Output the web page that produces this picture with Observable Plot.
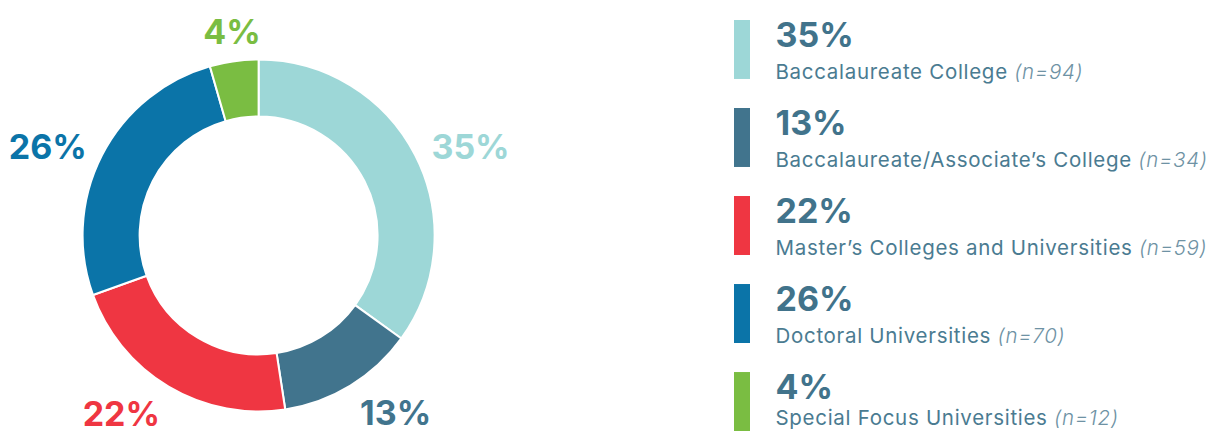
<!DOCTYPE html>
<html>
<head>
<meta charset="utf-8">
<script src="https://cdn.jsdelivr.net/npm/d3@7"></script>
<script src="https://cdn.jsdelivr.net/npm/@observablehq/plot@0.6"></script>
<style>
  html, body { margin: 0; padding: 0; background: #fff; }
  #wrap { display: flex; flex-direction: row; width: 1214px; height: 434px; overflow: hidden; }
  svg { overflow: visible; }
</style>
</head>
<body>
<div id="wrap"></div>
<script>
// ---- Data ----
const categories = [
  "Baccalaureate College",
  "Baccalaureate/Associate\u2019s College",
  "Master\u2019s Colleges and Universities",
  "Doctoral Universities",
  "Special Focus Universities"
];
const percents = [35, 13, 22, 26, 4];
const counts = [94, 34, 59, 70, 12];
const colors = ["#9dd7d7", "#41748d", "#ef3642", "#0b74a8", "#7abd42"];

const data = categories.map((c, i) => ({category: c, pct: percents[i], n: counts[i], label: percents[i] + "%", last: i === categories.length - 1}));

// pie layout (angles clockwise from 12 o'clock)
const pie = d3.pie().sort(null).value(d => d.n)(data);
const labelR = 1.1;    // in outer-radius units
const innerRatio = 0.676;
const labelData = pie.map(p => {
  const a = (p.startAngle + p.endAngle) / 2;
  const s = Math.sin(a), c = Math.cos(a);
  return {
    ...p.data, a, lx: labelR * s, ly: labelR * c,
    textAnchor: s > 0.3 ? "start" : s < -0.3 ? "end" : "middle",
    lineAnchor: c > 0.7 ? "bottom" : c < -0.7 ? "top" : "middle"
  };
});

const FONT = "Inter, 'Open Sans', sans-serif";
const cx = 258.6, cy = 235.5, R = 176;

const donutMark = (index, scales) => {
  const x = scales.x, y = scales.y, color = scales.color;
  const ox = x(0), oy = y(0);
  const rOut = x(1) - x(0);
  const rIn = x(innerRatio) - x(0);
  const arc = d3.arc().innerRadius(rIn).outerRadius(rOut);
  const g = d3.create("svg:g").attr("aria-label", "donut").attr("transform", `translate(${ox},${oy})`);
  g.selectAll("path").data(pie).join("path")
    .attr("d", arc)
    .attr("fill", d => color(d.data.category))
    .attr("stroke", "#fff")
    .attr("stroke-width", 2)
    .attr("stroke-linejoin", "round");
  return g.node();
};

const donut = Plot.plot({
  width: 734, height: 434, margin: 0,
  style: {background: "transparent", fontFamily: FONT},
  x: {domain: [-1, 1], range: [cx - R, cx + R], axis: null},
  y: {domain: [-1, 1], range: [cy + R, cy - R], axis: null},
  color: {domain: categories, range: colors},
  marks: [
    donutMark,
    ...labelData.map(d => Plot.text([d], {
      x: "lx", y: "ly", text: "label", fill: "category",
      fontSize: 34, fontWeight: 700, fontFamily: FONT,
      textAnchor: d.textAnchor, lineAnchor: d.lineAnchor
    }))
  ]
});

const nameOpts = {y: "category", x: 41, text: "category", textAnchor: "start", lineAnchor: "bottom",
  fontSize: 20.5, fontWeight: 400, fill: "#4a7b91", fontFamily: FONT};

const legend = Plot.plot({
  width: 480, height: 434, margin: 0,
  style: {background: "transparent", fontFamily: FONT, overflow: "visible"},
  x: {domain: [0, 480], range: [0, 480], axis: null},
  y: {type: "band", domain: categories, range: [20, 431], paddingInner: 0.33, paddingOuter: 0, round: false, axis: null},
  color: {domain: categories, range: colors},
  marks: [
    Plot.barX(data, {y: "category", x1: 0, x2: 16, fill: "category"}),
    Plot.text(data, {y: "category", x: 41, text: "label", textAnchor: "start", lineAnchor: "bottom",
      dy: -3, fontSize: 34, fontWeight: 700, fill: "#41738b", fontFamily: FONT}),
    Plot.text(data, {...nameOpts, filter: d => !d.last, dy: 29}),
    Plot.text(data, {...nameOpts, filter: d => d.last, dy: 22.5})
  ]
});

// append italic (n=..) part to each legend name
d3.select(legend).selectAll("text")
  .filter(function() { return categories.includes(this.textContent); })
  .each(function() {
    const d = data[categories.indexOf(this.textContent)];
    d3.select(this)
      .style("letter-spacing", "0.7px")
      .append("tspan")
      .attr("font-style", "italic")
      .attr("font-weight", 300)
      .attr("fill", "#6e92a4")
      .text(" (n=" + d.n + ")");
  });

const wrap = document.getElementById("wrap");
wrap.appendChild(donut);
wrap.appendChild(legend);
</script>
</body>
</html>
